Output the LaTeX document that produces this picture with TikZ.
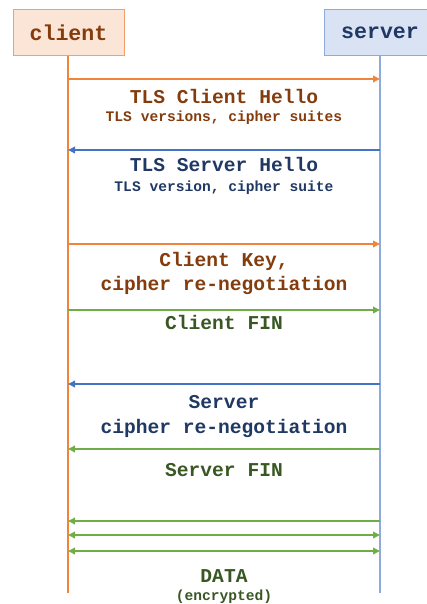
\documentclass[tikz,border=0pt]{standalone}
\usepackage{fontspec}
\setmonofont{Liberation Mono}
\usetikzlibrary{arrows.meta}
\definecolor{clientorange}{RGB}{240,132,58}
\definecolor{clientfill}{RGB}{251,229,214}
\definecolor{clientborder}{RGB}{244,160,106}
\definecolor{clienttext}{RGB}{132,60,12}
\definecolor{serverblue}{RGB}{68,114,196}
\definecolor{serverfill}{RGB}{218,227,243}
\definecolor{serverline}{RGB}{143,170,220}
\definecolor{servertext}{RGB}{31,56,100}
\definecolor{fingreen}{RGB}{112,173,71}
\definecolor{fintext}{RGB}{56,87,35}

\begin{document}
\begin{tikzpicture}[x=1pt, y=-1pt, >={Triangle[length=7pt,width=6.5pt]},
    head/.style={minimum width=111pt, minimum height=46pt, line width=1pt,
      font=\ttfamily\bfseries\fontsize{21.6}{22}\selectfont},
    msg/.style={anchor=base, font=\ttfamily\bfseries\fontsize{19.6}{20}\selectfont},
    note/.style={anchor=base, font=\ttfamily\bfseries\fontsize{14.6}{15}\selectfont}]
    \useasboundingbox (0,0) rectangle (427,604);

    % heads and lifelines
    \node[head, fill=clientfill, draw=clientborder, text=clienttext] (client) at (68.5,33) {client};
    \node[head, fill=serverfill, draw=serverline, text=servertext] (server) at (380,33) {server};
    \coordinate (clientend) at (68,593);
    \coordinate (serverend) at (380,593);
    \draw[clientorange, line width=1.2pt] (client.south -| clientend) -- (clientend);
    \draw[serverline, line width=1.2pt] (server.south) -- (serverend);

    \foreach \y [count=\i] in {79,150,244,310,384,449,521,535,551} {
      \coordinate (c\i) at (68,\y);
      \coordinate (s\i) at (380,\y);
    }

    % messages
    \draw[->, clientorange, line width=1.8pt] (c1) -- (s1);
    \node[msg, text=clienttext] (hello) at (224,103.3) {TLS Client Hello};
    \node[note, text=clienttext] (hellonote) at (224,121.7) {TLS versions, cipher suites};

    \draw[->, serverblue, line width=1.8pt] (s2) -- (c2);
    \node[msg, text=servertext] (shello) at (224,171.7) {TLS Server Hello};
    \node[note, text=servertext] (shellonote) at (224,191.7) {TLS version, cipher suite};

    \draw[->, clientorange, line width=1.8pt] (c3) -- (s3);
    \node[msg, text=clienttext] (ckey) at (224,266.7) {Client Key,};
    \node[msg, text=clienttext] (crenego) at (224,290) {cipher re-negotiation};

    \draw[->, fingreen, line width=1.8pt] (c4) -- (s4);
    \node[msg, text=fintext] (cfin) at (224,329.5) {Client FIN};

    \draw[->, serverblue, line width=1.8pt] (s5) -- (c5);
    \node[msg, text=servertext] (srv) at (224,408.3) {Server};
    \node[msg, text=servertext] (srenego) at (224,433.3) {cipher re-negotiation};

    \draw[->, fingreen, line width=1.8pt] (s6) -- (c6);
    \node[msg, text=fintext] (sfin) at (224,476.7) {Server FIN};

    % data
    \draw[->, fingreen, line width=1.8pt] (s7) -- (c7);
    \draw[<->, fingreen, line width=1.8pt] (c8) -- (s8);
    \draw[<->, fingreen, line width=1.8pt] (c9) -- (s9);
    \node[msg, text=fintext] (data) at (224,582.7) {DATA};
    \node[note, text=fintext] (datanote) at (224,600.7) {(encrypted)};
\end{tikzpicture}
\end{document}
